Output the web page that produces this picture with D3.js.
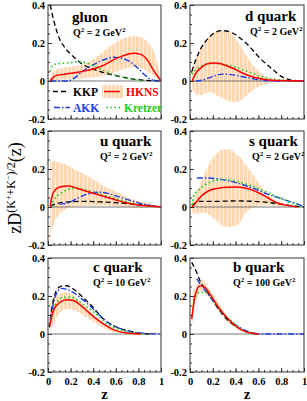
<!DOCTYPE html>
<html><head><meta charset="utf-8">
<script src="https://cdn.jsdelivr.net/npm/d3@7"></script>
<style>
html,body{margin:0;padding:0;background:#fff;}
svg{display:block;}
text{font-family:"Liberation Serif","Times New Roman",serif;}
</style></head><body>
<svg id="c" width="307" height="401"></svg>
<script>
// ---------------- DATA ----------------
const panelNames = ["gluon","d quark","u quark","s quark","c quark","b quark"];
const panelQ2 = ["2","2","2","2","10","100"];
const xTickValues = [0,0.2,0.4,0.6,0.8,1];
const xTickLabels = ["0","0.2","0.4","0.6","0.8","1"];
const yTickValues = [-0.2,0,0.2,0.4];
const yTickLabels = ["-0.2","0","0.2","0.4"];
const legendLabels = ["KKP","HKNS","AKK","Kretzer"];

// gluon
const gluonKKP = [[0.02,0.40],[0.05,0.32],[0.1,0.225],[0.15,0.175],[0.2,0.143],[0.3,0.09],[0.4,0.062],[0.5,0.043],[0.6,0.028],[0.7,0.016],[0.8,0.007],[0.9,0.002],[1,0]];
const gluonHKNS = [[0.02,0.0],[0.05,0.022],[0.08,0.03],[0.15,0.036],[0.3,0.05],[0.4,0.063],[0.5,0.085],[0.6,0.118],[0.7,0.14],[0.76,0.146],[0.82,0.14],[0.88,0.11],[0.93,0.06],[0.97,0.025],[1,0]];
const gluonAKK = [[0.02,0],[0.15,0],[0.2,0.004],[0.3,0.048],[0.4,0.085],[0.5,0.113],[0.58,0.125],[0.65,0.12],[0.73,0.1],[0.8,0.065],[0.86,0.03],[0.92,0.006],[1,0]];
const gluonKretzer = [[0.02,0.05],[0.04,0.08],[0.07,0.09],[0.15,0.094],[0.25,0.1],[0.33,0.097],[0.4,0.08],[0.5,0.053],[0.6,0.03],[0.7,0.015],[0.8,0.004],[0.85,0]];
const gluonBand = [[0.02,0.0,0.02],[0.05,0.005,0.05],[0.08,0.005,0.06],[0.2,0.01,0.075],[0.31,0.015,0.09],[0.4,0.018,0.115],[0.46,0.022,0.14],[0.53,0.035,0.175],[0.61,0.05,0.207],[0.7,0.068,0.23],[0.76,0.075,0.237],[0.82,0.07,0.232],[0.88,0.05,0.205],[0.93,0.03,0.163],[0.97,0.01,0.09],[0.995,0,0.02]];

// d quark
const dKKP = [[0.015,0.049],[0.05,0.11],[0.088,0.163],[0.16,0.225],[0.22,0.255],[0.278,0.265],[0.35,0.258],[0.42,0.235],[0.5,0.195],[0.614,0.12],[0.73,0.058],[0.82,0.018],[0.9,0.004],[1,0]];
const dHKNS = [[0.02,0],[0.05,0.04],[0.088,0.065],[0.13,0.085],[0.175,0.093],[0.22,0.095],[0.26,0.092],[0.32,0.08],[0.38,0.066],[0.45,0.045],[0.526,0.026],[0.6,0.014],[0.67,0.007],[0.8,0.002],[1,0]];
const dAKK = [[0.05,0],[0.1,0.004],[0.175,0.018],[0.23,0.03],[0.29,0.036],[0.34,0.035],[0.4,0.03],[0.5,0.018],[0.57,0.01],[0.64,0.004],[0.7,0],[1,0]];
const dKretzer = [[0.015,0.035],[0.05,0.058],[0.088,0.075],[0.14,0.088],[0.2,0.092],[0.26,0.091],[0.32,0.085],[0.4,0.073],[0.47,0.058],[0.54,0.042],[0.61,0.026],[0.68,0.015],[0.76,0.008],[0.85,0.002],[0.9,0]];
const dBand = [[0.02,-0.04,0.06],[0.05,-0.07,0.11],[0.088,-0.075,0.163],[0.13,-0.065,0.205],[0.175,-0.058,0.235],[0.234,-0.075,0.262],[0.28,-0.09,0.266],[0.35,-0.108,0.255],[0.41,-0.11,0.215],[0.45,-0.1,0.18],[0.5,-0.075,0.126],[0.55,-0.05,0.085],[0.585,-0.035,0.06],[0.65,-0.018,0.028],[0.7,-0.01,0.012],[0.8,-0.003,0.003],[0.9,0,0]];

// u quark
const uKKP = [[0.02,0.005],[0.077,0.018],[0.165,0.026],[0.31,0.03],[0.46,0.027],[0.61,0.022],[0.755,0.015],[0.87,0.009],[1,0]];
const uHKNS = [[0.02,0.005],[0.035,0.055],[0.06,0.087],[0.106,0.105],[0.18,0.11],[0.25,0.1],[0.31,0.088],[0.4,0.072],[0.46,0.062],[0.55,0.046],[0.61,0.035],[0.7,0.021],[0.8,0.011],[0.9,0.005],[1,0]];
const uAKK = [[0.1,0.015],[0.15,0.018],[0.21,0.03],[0.26,0.045],[0.31,0.06],[0.37,0.071],[0.43,0.078],[0.48,0.077],[0.53,0.072],[0.61,0.057],[0.68,0.043],[0.755,0.03],[0.87,0.012],[1,0]];
const uKretzer = [[0.02,0.005],[0.062,0.046],[0.12,0.075],[0.17,0.09],[0.21,0.097],[0.26,0.097],[0.31,0.093],[0.37,0.084],[0.43,0.074],[0.55,0.053],[0.62,0.04],[0.7,0.027],[0.84,0.009],[0.95,0]];
const uBand = [[0.02,-0.19,0.245],[0.047,-0.096,0.242],[0.106,-0.035,0.233],[0.165,-0.008,0.222],[0.23,0.003,0.2],[0.31,0.006,0.176],[0.4,0.008,0.145],[0.46,0.008,0.123],[0.53,0.007,0.1],[0.61,0.004,0.079],[0.68,0.001,0.058],[0.755,-0.004,0.04],[0.83,-0.006,0.027],[0.9,-0.004,0.017],[1,0,0]];

// s quark
const sKKP = [[0.015,0.009],[0.05,0.022],[0.088,0.03],[0.234,0.03],[0.41,0.032],[0.556,0.03],[0.7,0.023],[0.82,0.012],[0.93,0.004],[1,0]];
const sHKNS = [[0.02,0],[0.06,0.03],[0.1,0.058],[0.146,0.079],[0.2,0.093],[0.26,0.1],[0.33,0.104],[0.41,0.105],[0.47,0.101],[0.526,0.093],[0.6,0.075],[0.67,0.053],[0.72,0.035],[0.76,0.023],[0.85,0.009],[0.94,0]];
const sAKK = [[0.06,0.153],[0.12,0.153],[0.234,0.149],[0.3,0.142],[0.38,0.132],[0.45,0.12],[0.526,0.105],[0.6,0.088],[0.67,0.07],[0.75,0.054],[0.82,0.04],[0.88,0.028],[0.936,0.018],[1,0]];
const sKretzer = [[0.02,0.01],[0.03,0.053],[0.088,0.096],[0.13,0.117],[0.175,0.13],[0.23,0.141],[0.29,0.145],[0.35,0.142],[0.41,0.135],[0.47,0.125],[0.526,0.114],[0.6,0.097],[0.67,0.079],[0.75,0.058],[0.82,0.04],[0.88,0.022],[0.936,0.009],[0.97,0]];
const sBand = [[0.02,-0.02,0.02],[0.03,-0.035,0.044],[0.06,-0.035,0.085],[0.088,-0.032,0.123],[0.13,-0.03,0.18],[0.175,-0.045,0.237],[0.23,-0.072,0.28],[0.29,-0.1,0.304],[0.35,-0.105,0.302],[0.41,-0.096,0.275],[0.44,-0.08,0.263],[0.47,-0.047,0.235],[0.526,-0.01,0.193],[0.57,0.0,0.155],[0.614,0.006,0.114],[0.67,0.01,0.075],[0.73,0.006,0.044],[0.82,0.002,0.018],[0.9,0,0.005],[0.95,0,0]];

// c quark
const cKKP = [[0.012,0.035],[0.033,0.132],[0.062,0.21],[0.106,0.249],[0.165,0.254],[0.224,0.237],[0.31,0.193],[0.4,0.14],[0.49,0.079],[0.578,0.044],[0.7,0.018],[0.81,0.005],[0.9,0]];
const cHKNS = [[0.015,0.044],[0.047,0.123],[0.106,0.167],[0.165,0.18],[0.224,0.176],[0.31,0.14],[0.4,0.093],[0.49,0.053],[0.578,0.023],[0.7,0.005],[0.82,0]];
const cAKK = [[0.02,0.07],[0.062,0.193],[0.12,0.24],[0.195,0.228],[0.283,0.193],[0.37,0.149],[0.46,0.097],[0.55,0.053],[0.67,0.023],[0.81,0.005],[1,0]];
const cKretzer = [[0.015,0.044],[0.062,0.149],[0.136,0.193],[0.21,0.193],[0.283,0.167],[0.37,0.132],[0.46,0.088],[0.55,0.044],[0.67,0.018],[0.8,0.003],[0.85,0]];
const cBand = [[0.018,0.009,0.167],[0.062,0.07,0.193],[0.106,0.114,0.21],[0.136,0.128,0.22],[0.18,0.132,0.218],[0.25,0.123,0.19],[0.34,0.088,0.14],[0.43,0.053,0.09],[0.52,0.023,0.05],[0.64,0.005,0.015],[0.75,0,0.003],[0.8,0,0]];

// b quark
const bKKP = [[0.015,0.377],[0.058,0.325],[0.088,0.28],[0.13,0.24],[0.175,0.2],[0.26,0.123],[0.32,0.08],[0.38,0.05],[0.47,0.018],[0.55,0.004],[0.6,0]];
const bHKNS = [[0.015,0.079],[0.044,0.2],[0.088,0.254],[0.13,0.246],[0.175,0.21],[0.26,0.132],[0.35,0.07],[0.44,0.026],[0.53,0.005],[0.6,0]];
const bAKK = [[0.06,0.29],[0.088,0.264],[0.146,0.22],[0.234,0.15],[0.32,0.088],[0.41,0.044],[0.53,0.009],[0.6,0],[1,0]];
const bKretzer = [[0.03,0.175],[0.088,0.22],[0.146,0.22],[0.234,0.15],[0.32,0.09],[0.38,0.06],[0.47,0.018],[0.55,0.003],[0.6,0]];
const bBand = [[0.015,0.035,0.1],[0.03,0.1,0.22],[0.044,0.15,0.245],[0.073,0.21,0.27],[0.088,0.228,0.278],[0.117,0.22,0.285],[0.146,0.205,0.26],[0.175,0.185,0.236],[0.234,0.132,0.18],[0.26,0.115,0.158],[0.32,0.07,0.1],[0.41,0.026,0.04],[0.5,0.005,0.009],[0.6,0,0]];

// ---------------- LAYOUT ----------------
const cols = [{x0:48,x1:161},{x0:190,x1:304}];
const rows = [{y0:5,y1:119},{y0:131,y1:245},{y0:258,y1:372}];
const colors = {KKP:"#000000",HKNS:"#ff0000",AKK:"#1b3de8",Kretzer:"#20cc20",band:"#fdd8b3",frame:"#333333"};
const dashes = {KKP:"5,3",HKNS:null,AKK:"6,2,1.5,2",Kretzer:"1.6,2.6"};
const widths = {KKP:1.3,HKNS:1.5,AKK:1.4,Kretzer:1.6};

const panelSeries = [
  {KKP:gluonKKP,HKNS:gluonHKNS,AKK:gluonAKK,Kretzer:gluonKretzer,band:gluonBand},
  {KKP:dKKP,HKNS:dHKNS,AKK:dAKK,Kretzer:dKretzer,band:dBand},
  {KKP:uKKP,HKNS:uHKNS,AKK:uAKK,Kretzer:uKretzer,band:uBand},
  {KKP:sKKP,HKNS:sHKNS,AKK:sAKK,Kretzer:sKretzer,band:sBand},
  {KKP:cKKP,HKNS:cHKNS,AKK:cAKK,Kretzer:cKretzer,band:cBand},
  {KKP:bKKP,HKNS:bHKNS,AKK:bAKK,Kretzer:bKretzer,band:bBand}
];

const svg = d3.select("#c");
const defs = svg.append("defs");
const pat = defs.append("pattern").attr("id","hatch").attr("patternUnits","userSpaceOnUse")
  .attr("width",4).attr("height",4);
pat.append("rect").attr("width",4).attr("height",4).attr("fill",colors.band);
pat.append("rect").attr("x",3).attr("width",0.8).attr("height",4).attr("fill","#ffffff").attr("opacity",0.8);

const font = '"Liberation Serif","Times New Roman",serif';

panelSeries.forEach((ser,i)=>{
  const c = cols[i%2], r = rows[Math.floor(i/2)];
  const x = d3.scaleLinear().domain([0,1]).range([c.x0,c.x1]);
  const y = d3.scaleLinear().domain([-0.2,0.4]).range([r.y1,r.y0]);
  const g = svg.append("g");
  const cid = "clip"+i;
  defs.append("clipPath").attr("id",cid).append("rect")
    .attr("x",c.x0).attr("y",r.y0).attr("width",c.x1-c.x0).attr("height",r.y1-r.y0);
  const pg = g.append("g").attr("clip-path",`url(#${cid})`);

  const area = d3.area().x(d=>x(d[0])).y0(d=>y(d[1])).y1(d=>y(d[2])).curve(d3.curveMonotoneX);
  pg.append("path").datum(ser.band).attr("d",area).attr("fill","url(#hatch)");

  pg.append("line").attr("x1",x(0)).attr("x2",x(1)).attr("y1",y(0)).attr("y2",y(0))
    .attr("stroke","#555").attr("stroke-width",0.8);

  const line = d3.line().x(d=>x(d[0])).y(d=>y(d[1])).curve(d3.curveMonotoneX);
  ["KKP","AKK","Kretzer","HKNS"].forEach(k=>{
    pg.append("path").datum(ser[k]).attr("d",line).attr("fill","none")
      .attr("stroke",colors[k]).attr("stroke-width",widths[k])
      .attr("stroke-dasharray",dashes[k]);
  });

  // axes: bottom ticks inward
  const xAx = d3.axisBottom(x).tickValues(d3.range(0,1.0001,0.05)).tickSize(-2).tickFormat("");
  g.append("g").attr("transform",`translate(0,${r.y1})`).call(xAx)
    .call(s=>{s.select(".domain").remove(); s.selectAll("line").attr("stroke",colors.frame);});
  const xAxM = d3.axisBottom(x).tickValues(xTickValues).tickSize(-4).tickPadding(6)
    .tickFormat((d,j)=> i>=4 ? xTickLabels[j] : "");
  g.append("g").attr("transform",`translate(0,${r.y1})`).call(xAxM)
    .call(s=>{s.select(".domain").remove(); s.selectAll("line").attr("stroke",colors.frame);
      s.selectAll("text").attr("font-family",font).attr("font-weight","bold").attr("font-size",10.5).attr("fill","#000");});
  const yAx = d3.axisLeft(y).tickValues(d3.range(-0.2,0.4001,0.05)).tickSize(-2).tickFormat("");
  g.append("g").attr("transform",`translate(${c.x0},0)`).call(yAx)
    .call(s=>{s.select(".domain").remove(); s.selectAll("line").attr("stroke",colors.frame);});
  const yAxM = d3.axisLeft(y).tickValues(yTickValues).tickSize(-4).tickPadding(3)
    .tickFormat((d,j)=>yTickLabels[j]);
  g.append("g").attr("transform",`translate(${c.x0},0)`).call(yAxM)
    .call(s=>{s.select(".domain").remove(); s.selectAll("line").attr("stroke",colors.frame);
      s.selectAll("text").attr("font-family",font).attr("font-weight","bold").attr("font-size",10.5).attr("fill","#000");});

  g.append("rect").attr("x",c.x0).attr("y",r.y0).attr("width",c.x1-c.x0).attr("height",r.y1-r.y0)
    .attr("fill","none").attr("stroke",colors.frame).attr("stroke-width",1);

  // labels
  const lx = [72,245,100,249,93,233][i];
  const ly = [22,21,146,146,272,272][i];
  g.append("text").attr("x",lx).attr("y",ly).attr("font-family",font).attr("font-weight","bold")
    .attr("font-size",15).text(panelNames[i]);
  const qx = [73,250,100,252,93,233][i];
  const qt = g.append("text").attr("x",qx).attr("y",ly+14).attr("font-family",font).attr("font-weight","bold")
    .attr("font-size",10);
  qt.append("tspan").text("Q");
  qt.append("tspan").attr("dy",-4).attr("font-size",7).text("2");
  qt.append("tspan").attr("dy",4).text(" = "+panelQ2[i]+" GeV");
  qt.append("tspan").attr("dy",-4).attr("font-size",7).text("2");

  if(i>=4){
    svg.append("text").attr("x",(c.x0+c.x1)/2).attr("y",399).attr("text-anchor","middle")
      .attr("font-family",font).attr("font-weight","bold").attr("font-size",15).text("z");
  }
});

// legend in gluon panel
{
  const lg = svg.append("g");
  const items = [
    {k:"KKP",x:53,y:91.5},{k:"HKNS",x:104,y:91.5},{k:"AKK",x:54,y:107.5},{k:"Kretzer",x:106,y:107.5}
  ];
  items.forEach((it,j)=>{
    if(it.k==="HKNS"){
      lg.append("rect").attr("x",it.x-2).attr("y",it.y-6.5).attr("width",21).attr("height",13).attr("fill","url(#hatch)");
    }
    lg.append("line").attr("x1",it.x).attr("x2",it.x+(it.k==="Kretzer"?14:16)).attr("y1",it.y).attr("y2",it.y)
      .attr("stroke",colors[it.k]).attr("stroke-width",widths[it.k]).attr("stroke-dasharray",dashes[it.k]);
    const tx = {KKP:73,HKNS:126,AKK:73,Kretzer:124}[it.k];
    lg.append("text").attr("x",tx).attr("y",it.y+4).attr("font-family",font).attr("font-weight","bold")
      .attr("font-size",11.5).attr("fill",colors[it.k]).text(legendLabels[j]);
  });
}

// y label
{
  const t = svg.append("text").attr("transform","translate(21,188) rotate(-90)").attr("text-anchor","middle")
    .attr("font-family",font).attr("font-size",18);
  t.append("tspan").text("zD");
  t.append("tspan").attr("dy",-6).attr("font-size",12).text("(K");
  t.append("tspan").attr("dy",-4).attr("font-size",8).text("+");
  t.append("tspan").attr("dy",4).attr("font-size",12).text("+K");
  t.append("tspan").attr("dy",-4).attr("font-size",8).text("−");
  t.append("tspan").attr("dy",4).attr("font-size",12).text(")/2");
  t.append("tspan").attr("dy",6).text("(z)");
}
</script>
</body></html>
